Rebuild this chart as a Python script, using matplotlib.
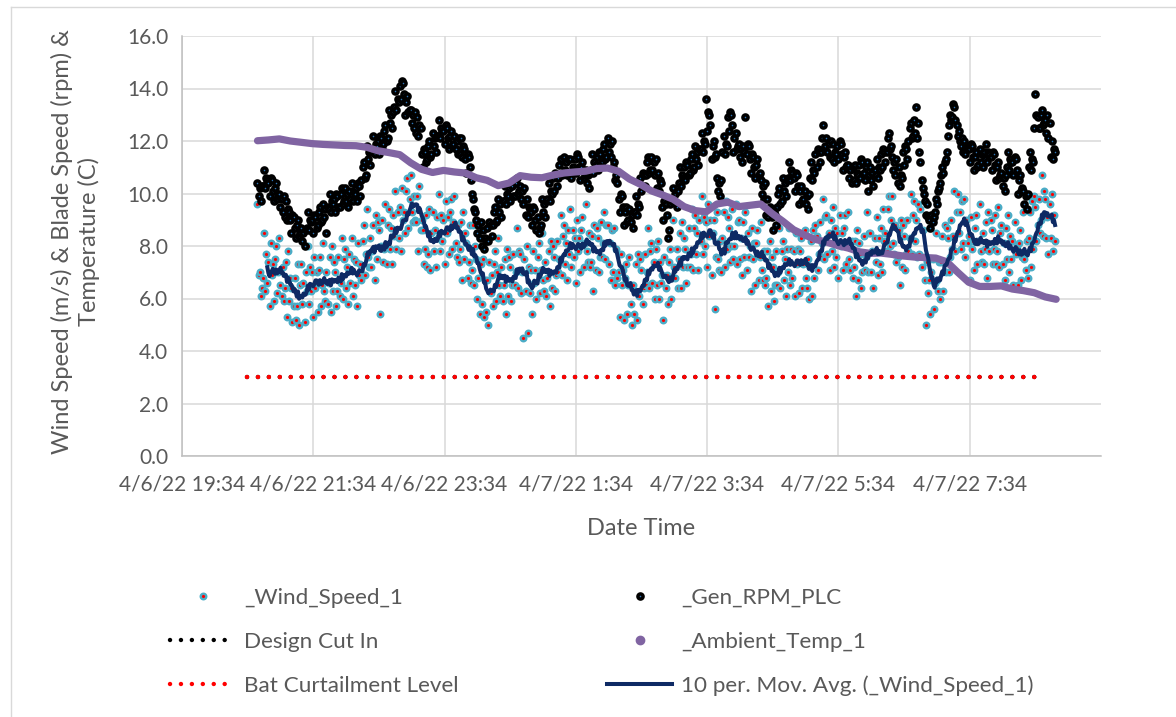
import numpy as np
import pandas as pd
import matplotlib
matplotlib.use("Agg")
import matplotlib.pyplot as plt
import matplotlib.dates as mdates
from matplotlib.lines import Line2D
from matplotlib.ticker import MultipleLocator, FuncFormatter

# one reading per minute, starting 4/6/22 20:43
start_time = "2022-04-06 20:43"

wind_speed = [
    9.6, 6.9, 7.0, 6.1, 6.4, 6.8, 8.5, 6.3, 7.7, 6.6, 7.4, 5.7, 8.1, 6.9, 7.3, 5.9, 7.5, 8.0, 6.2, 7.0,
    8.3, 6.5, 6.1, 7.2, 5.9, 6.4, 7.4, 5.3, 7.8, 5.9, 6.8, 6.4, 5.1, 5.7, 6.8, 5.2, 5.7, 7.3, 5.0, 6.5,
    7.3, 5.8, 6.6, 5.1, 7.0, 6.3, 8.0, 5.8, 7.2, 6.3, 7.0, 5.3, 7.6, 6.4, 7.0, 5.5, 7.1, 7.6, 5.7, 6.5,
    8.1, 6.3, 5.9, 7.0, 5.8, 6.6, 7.6, 5.5, 8.0, 6.3, 7.4, 7.0, 5.7, 6.3, 7.6, 6.1, 6.6, 8.3, 6.0, 7.5,
    7.9, 6.4, 7.2, 5.8, 7.7, 6.6, 8.3, 6.1, 7.5, 6.5, 7.4, 5.7, 8.1, 6.9, 7.3, 6.7, 8.2, 8.8, 6.9, 7.7,
    9.4, 7.6, 7.2, 8.3, 7.2, 7.8, 8.8, 6.7, 9.2, 7.5, 8.9, 8.6, 5.4, 8.0, 9.0, 7.4, 7.9, 9.6, 7.3, 8.8,
    9.4, 7.9, 8.7, 7.3, 9.2, 8.4, 10.1, 7.9, 9.3, 8.3, 9.5, 7.8, 10.2, 9.0, 9.3, 8.5, 10.1, 10.6, 8.7, 9.8,
    10.7, 9.3, 8.9, 9.9, 9.0, 8.9, 9.9, 7.8, 10.3, 8.6, 9.0, 8.6, 7.3, 7.9, 9.2, 7.2, 7.7, 9.4, 7.1, 8.5,
    9.3, 7.8, 8.6, 7.2, 9.1, 8.3, 10.0, 7.8, 9.2, 8.2, 9.0, 7.3, 9.7, 8.5, 9.1, 7.7, 9.3, 9.8, 7.9, 8.9,
    9.9, 8.1, 7.6, 8.8, 7.4, 7.9, 8.9, 6.7, 9.3, 7.5, 8.5, 8.1, 6.8, 7.4, 8.8, 6.6, 7.1, 8.8, 6.5, 8.0,
    7.5, 6.0, 6.8, 5.4, 7.3, 5.8, 7.5, 5.3, 6.7, 5.5, 6.7, 5.0, 7.4, 6.2, 6.9, 5.7, 7.3, 7.8, 5.9, 7.0,
    8.3, 6.5, 6.1, 7.2, 5.9, 6.5, 7.5, 5.4, 7.9, 6.1, 7.6, 7.2, 5.9, 6.5, 7.7, 6.5, 7.0, 8.7, 6.4, 7.8,
    7.7, 6.2, 7.0, 4.5, 7.5, 6.3, 8.0, 4.7, 7.2, 6.2, 7.1, 5.4, 7.8, 6.6, 7.1, 6.0, 7.6, 8.1, 6.2, 7.1,
    8.5, 6.7, 6.3, 7.4, 6.1, 6.8, 7.8, 5.7, 8.2, 6.4, 8.0, 7.6, 6.3, 6.9, 8.2, 7.0, 7.5, 9.2, 6.9, 8.4,
    8.8, 7.3, 8.1, 6.7, 8.6, 7.7, 9.4, 7.2, 8.6, 7.6, 8.3, 6.6, 9.0, 7.8, 8.3, 7.0, 8.6, 9.1, 7.2, 8.1,
    9.6, 7.8, 7.4, 8.5, 7.2, 7.4, 8.4, 6.3, 8.8, 7.1, 8.7, 8.3, 7.0, 7.6, 8.9, 7.6, 8.1, 9.3, 7.5, 8.8,
    8.8, 7.3, 8.1, 6.7, 8.6, 7.0, 8.7, 6.5, 7.9, 6.8, 7.0, 5.3, 7.7, 6.5, 7.1, 5.2, 6.8, 7.3, 5.4, 6.5,
    7.6, 5.8, 5.0, 6.5, 5.4, 6.3, 7.3, 5.2, 7.7, 6.1, 7.5, 7.1, 5.8, 6.4, 7.7, 6.5, 7.0, 8.7, 6.4, 7.8,
    8.1, 6.6, 7.4, 6.0, 7.9, 6.5, 8.2, 6.0, 7.4, 6.6, 6.9, 5.2, 7.6, 6.4, 6.9, 5.8, 7.4, 7.9, 6.0, 6.8,
    9.0, 7.2, 6.8, 7.9, 6.4, 7.5, 8.5, 6.4, 8.9, 7.2, 8.3, 7.9, 6.6, 7.2, 8.7, 7.2, 7.7, 9.4, 7.1, 8.7,
    9.2, 7.7, 8.5, 7.1, 9.0, 8.2, 9.9, 7.7, 9.1, 8.0, 8.9, 7.2, 9.6, 8.4, 9.0, 6.9, 8.5, 9.0, 5.6, 7.6,
    9.3, 7.5, 7.1, 8.2, 7.0, 8.3, 9.3, 7.2, 9.7, 7.9, 9.1, 8.7, 7.4, 8.0, 9.4, 7.5, 8.0, 9.6, 7.3, 8.9,
    9.0, 7.5, 8.3, 6.9, 8.9, 7.6, 9.3, 7.1, 8.5, 7.6, 8.0, 6.3, 8.7, 7.5, 8.1, 6.5, 8.1, 8.6, 6.7, 7.6,
    8.9, 7.1, 6.7, 7.8, 6.5, 6.8, 7.8, 5.7, 8.2, 6.3, 7.6, 7.2, 5.9, 6.5, 7.8, 6.5, 7.0, 8.7, 6.4, 7.8,
    8.2, 6.7, 7.5, 6.1, 7.9, 7.0, 8.7, 6.5, 7.9, 6.8, 7.8, 6.1, 8.5, 7.3, 7.9, 6.2, 7.8, 8.3, 6.4, 7.3,
    8.6, 6.8, 6.4, 7.5, 6.0, 7.2, 8.2, 6.1, 8.6, 6.8, 8.8, 8.4, 7.1, 7.7, 8.9, 7.6, 8.1, 9.8, 7.5, 9.1,
    9.2, 7.7, 8.5, 7.1, 9.0, 7.8, 9.5, 7.2, 8.7, 7.6, 8.5, 6.8, 9.2, 8.0, 8.5, 7.1, 8.7, 9.2, 7.3, 8.0,
    9.3, 7.5, 7.1, 8.2, 6.8, 7.2, 8.2, 6.1, 8.6, 6.7, 8.1, 7.7, 6.4, 7.0, 8.4, 7.1, 7.6, 9.3, 7.0, 8.5,
    8.5, 7.0, 7.8, 6.4, 8.3, 7.4, 9.1, 6.9, 8.3, 7.3, 8.7, 7.0, 9.4, 8.2, 8.5, 7.8, 9.4, 9.9, 8.0, 9.0,
    9.9, 8.1, 7.7, 8.8, 7.4, 7.6, 8.6, 6.5, 9.0, 7.2, 8.8, 8.4, 7.1, 7.7, 9.0, 7.8, 8.3, 10.0, 7.7, 9.2,
    9.7, 8.2, 9.0, 7.6, 9.6, 7.7, 9.4, 7.2, 8.6, 7.6, 6.7, 5.0, 7.4, 6.2, 6.7, 5.4, 7.0, 7.5, 5.6, 6.6,
    8.5, 6.7, 6.3, 7.4, 6.0, 7.4, 8.4, 6.3, 8.8, 7.0, 8.7, 8.3, 7.0, 7.6, 9.0, 7.9, 8.4, 10.1, 7.8, 9.3,
    10.0, 8.5, 9.3, 7.9, 9.7, 8.1, 9.8, 7.6, 9.0, 8.1, 8.4, 6.7, 9.1, 7.9, 8.2, 7.1, 8.7, 9.2, 7.3, 8.2,
    9.6, 7.8, 7.4, 8.5, 7.3, 7.9, 8.9, 6.8, 9.3, 7.8, 9.0, 8.6, 7.3, 7.9, 9.2, 7.3, 7.8, 9.5, 7.2, 8.5,
    8.8, 7.3, 8.1, 6.7, 8.7, 7.5, 9.2, 7.0, 8.4, 7.5, 8.2, 6.5, 8.9, 7.7, 8.0, 6.5, 8.1, 8.6, 6.7, 7.6,
    9.3, 7.5, 7.1, 8.2, 6.8, 8.3, 9.3, 7.2, 9.7, 7.9, 9.9, 9.5, 8.2, 8.8, 9.8, 8.5, 9.0, 10.7, 8.4, 10.1,
    9.8, 8.3, 9.1, 7.7, 9.6, 8.3, 10.0, 7.8, 9.2, 8.2,
]

gen_rpm = [
    10.4, 9.9, 10.2, 9.7, 10.3, 10.3, 10.9, 10.2, 10.6, 10.5, 10.4, 9.9, 10.6, 10.5, 10.1, 9.7, 10.2, 10.4, 9.8, 9.9,
    10.0, 9.5, 9.8, 9.3, 9.9, 9.1, 9.7, 9.0, 9.4, 9.3, 9.0, 8.5, 9.2, 9.1, 8.7, 8.3, 8.8, 9.0, 8.4, 8.5,
    8.7, 8.2, 8.5, 8.0, 8.6, 8.7, 9.3, 8.6, 9.0, 8.9, 9.0, 8.5, 9.2, 9.1, 8.7, 8.8, 9.3, 9.5, 8.9, 9.0,
    9.6, 9.1, 9.4, 8.5, 9.5, 9.4, 10.0, 9.3, 9.7, 9.6, 9.8, 9.3, 10.0, 9.9, 9.5, 9.5, 10.0, 10.2, 9.6, 9.7,
    10.2, 9.7, 10.0, 9.5, 10.1, 9.8, 10.4, 9.7, 10.1, 10.0, 10.2, 9.7, 10.4, 10.3, 9.9, 10.5, 11.0, 11.2, 10.6, 10.7,
    11.8, 11.3, 11.6, 11.1, 11.7, 11.6, 12.2, 11.5, 11.9, 11.8, 12.0, 11.5, 12.2, 12.1, 11.7, 11.9, 12.4, 12.6, 12.0, 12.1,
    13.2, 12.7, 13.0, 12.5, 13.1, 13.3, 13.9, 13.2, 13.6, 13.5, 14.1, 13.6, 14.3, 14.2, 13.8, 13.0, 13.5, 13.7, 13.1, 13.2,
    13.2, 12.7, 13.0, 12.5, 13.1, 12.3, 12.9, 12.2, 12.6, 12.5, 11.5, 11.0, 11.7, 11.6, 11.2, 11.3, 11.8, 12.0, 11.4, 11.5,
    12.3, 11.8, 12.1, 11.6, 12.2, 12.2, 12.8, 12.1, 12.5, 12.4, 12.4, 11.9, 12.6, 12.5, 12.1, 11.7, 12.2, 12.4, 11.8, 11.9,
    12.2, 11.7, 12.0, 11.5, 12.1, 11.5, 12.1, 11.4, 11.8, 11.7, 11.3, 10.8, 11.5, 11.4, 11.0, 10.5, 10.0, 9.8, 9.4, 9.3,
    9.0, 8.5, 8.8, 8.3, 8.9, 8.0, 8.6, 7.9, 8.3, 8.2, 8.7, 8.2, 8.9, 8.8, 8.4, 8.8, 9.3, 9.5, 8.9, 9.0,
    9.8, 9.3, 9.6, 9.1, 9.7, 9.7, 10.3, 9.6, 10.0, 9.9, 10.2, 9.7, 10.4, 10.3, 9.9, 9.9, 10.4, 10.6, 10.0, 10.1,
    10.3, 9.8, 10.1, 9.6, 10.2, 9.2, 9.8, 9.1, 9.5, 9.4, 9.3, 8.8, 9.5, 9.4, 9.0, 8.6, 9.1, 8.5, 8.7, 8.8,
    9.8, 9.3, 9.6, 9.1, 9.7, 9.8, 10.4, 9.7, 10.1, 10.0, 10.6, 10.1, 10.8, 10.7, 10.3, 10.6, 11.1, 11.3, 10.7, 10.8,
    11.4, 10.9, 11.2, 10.7, 11.3, 10.7, 11.3, 10.6, 11.0, 10.9, 11.3, 10.8, 11.5, 11.4, 11.0, 10.5, 11.0, 11.2, 10.6, 10.7,
    10.9, 10.4, 10.7, 10.2, 10.8, 10.9, 11.5, 10.8, 11.2, 11.1, 11.4, 10.9, 11.6, 11.5, 11.1, 11.2, 11.7, 11.9, 11.3, 11.4,
    12.1, 11.6, 11.9, 11.4, 12.0, 11.0, 11.2, 10.5, 10.7, 10.4, 9.8, 9.3, 10.0, 9.9, 9.5, 8.8, 9.3, 9.5, 8.9, 9.0,
    9.4, 8.9, 9.2, 8.7, 9.3, 9.3, 9.9, 9.2, 9.6, 9.5, 10.6, 10.1, 10.8, 10.7, 10.3, 10.7, 11.2, 11.4, 10.8, 10.9,
    11.4, 10.9, 11.2, 10.7, 11.3, 10.2, 10.8, 10.1, 10.5, 10.4, 9.5, 9.0, 9.7, 9.6, 9.2, 8.3, 8.6, 9.6, 9.8, 9.7,
    10.2, 9.7, 10.0, 9.5, 10.1, 10.4, 11.0, 10.3, 10.7, 10.6, 11.0, 10.5, 11.2, 11.1, 10.7, 10.8, 11.3, 11.5, 10.9, 11.0,
    11.8, 11.3, 11.6, 11.1, 11.7, 11.7, 12.3, 11.6, 12.0, 11.9, 13.6, 12.4, 13.1, 13.0, 12.6, 11.3, 11.8, 12.0, 11.4, 11.5,
    10.6, 10.1, 10.4, 9.9, 10.5, 11.6, 12.2, 11.5, 11.9, 11.8, 12.9, 12.4, 13.1, 13.0, 12.6, 11.6, 12.1, 12.3, 11.7, 11.8,
    11.9, 11.4, 11.7, 11.2, 11.8, 11.6, 12.9, 11.5, 11.9, 11.8, 11.3, 10.8, 11.5, 11.4, 11.0, 10.6, 11.1, 11.3, 10.7, 10.8,
    10.5, 10.0, 10.3, 9.8, 10.4, 9.2, 9.8, 9.1, 9.5, 9.4, 9.1, 8.6, 9.3, 9.2, 8.8, 9.5, 10.0, 10.2, 9.6, 9.7,
    10.6, 10.1, 10.4, 9.9, 10.5, 10.6, 11.2, 10.5, 10.9, 10.8, 10.6, 10.1, 10.8, 10.7, 10.3, 9.6, 10.1, 10.3, 9.7, 9.8,
    10.1, 9.6, 9.9, 9.4, 10.0, 10.6, 11.2, 10.5, 10.9, 10.8, 11.5, 11.0, 11.7, 11.6, 11.2, 11.6, 12.1, 12.6, 11.7, 11.8,
    12.1, 11.6, 11.9, 11.4, 12.0, 11.3, 11.9, 11.2, 11.6, 11.5, 11.8, 11.3, 12.0, 11.9, 11.5, 10.9, 11.4, 11.6, 11.0, 11.1,
    11.1, 10.6, 10.9, 10.4, 11.0, 10.5, 11.1, 10.4, 10.8, 10.7, 11.1, 10.6, 11.3, 11.2, 10.8, 10.5, 11.0, 11.2, 10.1, 10.7,
    11.0, 10.5, 10.8, 10.3, 10.9, 10.7, 11.3, 10.6, 11.0, 10.9, 11.5, 11.0, 11.7, 11.6, 11.2, 11.6, 12.1, 12.3, 11.7, 11.8,
    11.4, 10.9, 11.2, 10.7, 11.3, 10.4, 11.0, 10.3, 10.7, 10.6, 11.6, 11.1, 11.8, 11.7, 11.3, 12.0, 12.5, 12.7, 12.1, 12.2,
    12.8, 12.3, 13.3, 12.1, 12.7, 11.6, 11.2, 10.5, 10.2, 10.0, 9.7, 9.2, 9.6, 9.1, 9.0, 8.7, 9.2, 8.9, 9.1, 9.3,
    9.8, 9.6, 10.1, 10.2, 10.4, 10.7, 11.0, 10.8, 11.2, 11.3, 11.6, 12.2, 12.6, 13.0, 12.8, 12.9, 13.4, 13.3, 12.8, 12.6,
    12.2, 12.4, 12.0, 11.8, 12.1, 11.6, 12.0, 11.5, 11.8, 11.8, 11.7, 11.2, 11.9, 11.8, 11.4, 10.9, 11.4, 11.6, 11.0, 11.1,
    11.7, 11.2, 11.5, 11.0, 11.6, 11.3, 11.9, 11.2, 11.6, 11.5, 11.4, 10.9, 11.6, 11.5, 11.1, 10.5, 11.0, 11.2, 10.6, 10.7,
    10.8, 10.3, 10.6, 10.1, 10.7, 11.0, 11.6, 10.9, 11.3, 11.2, 11.2, 10.7, 11.4, 11.3, 10.9, 10.0, 10.5, 10.7, 10.1, 10.2,
    10.1, 9.6, 9.9, 9.4, 10.0, 11.0, 11.6, 10.9, 11.3, 11.2, 12.5, 13.8, 13.0, 12.9, 12.5, 12.5, 13.0, 13.2, 12.6, 12.7,
    12.8, 12.3, 13.0, 12.1, 12.7, 11.4, 12.0, 11.3, 11.7, 11.6,
]

# ambient temperature, every 10 minutes from the same start
ambient_temp = [
    12.01, 12.04, 12.08, 12.00, 11.95, 11.90, 11.87, 11.85, 11.83, 11.82,
    11.76, 11.63, 11.56, 11.48, 11.17, 10.92, 10.80, 10.88, 10.82, 10.78,
    10.60, 10.50, 10.30, 10.40, 10.68, 10.62, 10.60, 10.70, 10.78, 10.82,
    10.85, 10.95, 10.97, 10.85, 10.55, 10.35, 10.10, 9.95, 9.78, 9.50,
    9.35, 9.30, 9.60, 9.67, 9.50, 9.55, 9.60, 9.25, 8.95, 8.62,
    8.42, 8.25, 8.15, 8.02, 7.92, 7.78, 7.72, 7.73, 7.68, 7.62,
    7.58, 7.56, 7.54, 7.40, 7.00, 6.62, 6.46, 6.46, 6.48, 6.36,
    6.30, 6.22, 6.06, 5.97,
]

# constant reference levels
level_times = ["2022-04-06 20:33", "2022-04-07 08:43"]
design_cut_in = [3.0, 3.0]
bat_curtailment = [3.0, 3.0]

times = pd.date_range(start_time, periods=len(wind_speed), freq="1min")
temp_times = pd.date_range(start_time, periods=len(ambient_temp), freq="10min")
level_times = pd.to_datetime(level_times)
wind_ma = pd.Series(wind_speed).rolling(10).mean()

text_color = "#595959"
plt.rcParams["font.family"] = ["Lato", "DejaVu Sans"]

wind_style = dict(linestyle="none", marker="o", markersize=4.0, markerfacecolor="#FF0000",
                  markeredgecolor="#4BACC6", markeredgewidth=1.7)
rpm_style = dict(linestyle="none", marker="o", markersize=3.7, markerfacecolor="#2E75B6",
                 markeredgecolor="black", markeredgewidth=2.5)
dot_line = dict(linewidth=3.2, dashes=(0.01, 2.45), dash_capstyle="round")

fig = plt.figure(figsize=(11.76, 7.17), dpi=100)
ax = fig.add_axes([182 / 1176, 1 - 456 / 717, (1101 - 182) / 1176, (456 - 36) / 717])

ax.plot(times, wind_speed, zorder=3, **wind_style)
ax.plot(times, gen_rpm, zorder=4, **rpm_style)
ax.plot(level_times, design_cut_in, color="black", zorder=5, **dot_line)
ax.plot(temp_times, ambient_temp, color="#8064A2", linewidth=5.2,
        solid_capstyle="round", solid_joinstyle="round", zorder=6)
ax.plot(level_times, bat_curtailment, color="#FF0000", zorder=7, **dot_line)
ax.plot(times, wind_ma, color="#0E2A64", linewidth=2.9,
        solid_joinstyle="round", zorder=8)

x_start = pd.Timestamp("2022-04-06 19:34")
x_end = pd.Timestamp("2022-04-07 09:34")
ax.set_xlim(x_start, x_end)
ax.set_ylim(0, 16)
ax.set_xticks(pd.date_range(x_start, periods=7, freq="2h"))


def date_label(value, pos):
    d = mdates.num2date(value)
    return f"{d.month}/{d.day}/{d.year % 100} {d.hour}:{d.minute:02d}"


ax.xaxis.set_major_formatter(FuncFormatter(date_label))
ax.yaxis.set_major_locator(MultipleLocator(2))
ax.yaxis.set_major_formatter(FuncFormatter(lambda v, p: f"{v:.1f}"))

ax.grid(True, color="#D9D9D9", linewidth=1.1)
ax.set_axisbelow(True)
for side in ["top", "right"]:
    ax.spines[side].set_visible(False)
for side in ["left", "bottom"]:
    ax.spines[side].set_color("#BFBFBF")
    ax.spines[side].set_linewidth(1.1)

ax.tick_params(axis="both", length=0, labelsize=15, colors=text_color)
ax.tick_params(axis="x", pad=13)
ax.tick_params(axis="y", pad=10)

ax.set_xlabel("Date Time", fontsize=17, color=text_color)
ax.xaxis.set_label_coords(0.5, -0.147)
ax.set_ylabel("Wind Speed (m/s) & Blade Speed (rpm) &\nTemperature (C)",
              fontsize=17, color=text_color, linespacing=1.3)
ax.yaxis.set_label_coords(-0.089, 0.51)

# legend, two separate columns
h_wind = Line2D([], [], **wind_style)
h_rpm = Line2D([], [], **rpm_style)
h_design = Line2D([], [], color="black", **dot_line)
h_temp = Line2D([], [], linestyle="none", marker="o", markersize=6, color="#8064A2")
h_bat = Line2D([], [], color="#FF0000", **dot_line)
h_ma = Line2D([], [], color="#0E2A64", linewidth=2.9)

legend_kw = dict(frameon=False, fontsize=16.2, handlelength=2.9, handletextpad=0.4,
                 labelspacing=1.06, borderpad=0, borderaxespad=0, labelcolor=text_color,
                 loc="upper left")
leg1 = fig.legend([h_wind, h_design, h_bat],
                  ["_Wind_Speed_1", "Design Cut In", "Bat Curtailment Level"],
                  bbox_to_anchor=(170 / 1176, 1 - 588 / 717), **legend_kw)
leg2 = fig.legend([h_rpm, h_temp, h_ma],
                  ["_Gen_RPM_PLC", "_Ambient_Temp_1", "10 per. Mov. Avg. (_Wind_Speed_1)"],
                  bbox_to_anchor=(607 / 1176, 1 - 588 / 717), **legend_kw)

# outer chart border (only top and left edges inside the crop)
fig.add_artist(Line2D([11 / 1176, 11 / 1176], [0, 1 - 7 / 717], color="#D9D9D9", linewidth=1.0))
fig.add_artist(Line2D([11 / 1176, 1], [1 - 7 / 717, 1 - 7 / 717], color="#D9D9D9", linewidth=1.0))

fig.savefig("out.png", dpi=100, facecolor="white")
